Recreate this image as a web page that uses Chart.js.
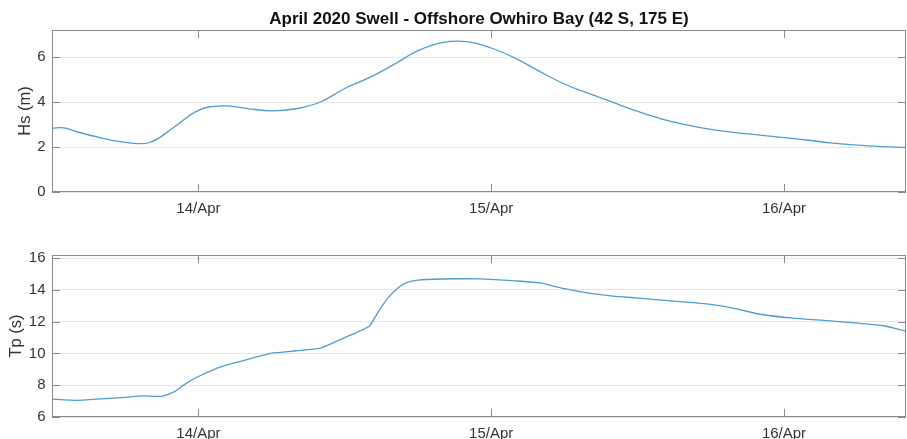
<!DOCTYPE html>
<html>
<head>
<meta charset="utf-8">
<script src="https://cdn.jsdelivr.net/npm/chart.js@4.4.1/dist/chart.umd.min.js"></script>
<style>
  body { margin: 0; background: #fff; }
  #wrap { position: relative; width: 907px; height: 439px; }
  .panel { position: absolute; left: 0; width: 907px; }
  #hsBox { top: 0; height: 220px; }
  #tpBox { top: 220px; height: 219px; }
</style>
</head>
<body>
<div id="wrap">
  <div class="panel" id="hsBox"><canvas id="hsChart" width="907" height="220"></canvas></div>
  <div class="panel" id="tpBox"><canvas id="tpChart" width="907" height="219"></canvas></div>
</div>
<script>
// time axis is hours since 13/Apr 00:00
const hsTime = [12, 13, 14, 16, 18, 20, 22, 24, 26, 28, 30, 32, 34, 36, 38, 40, 42, 44, 46,
  48, 50, 52, 54, 56, 58, 60, 62, 64, 66, 68, 70, 72, 74, 76, 78, 80, 82];
const hsValues = [2.83, 2.85, 2.68, 2.41, 2.21, 2.20, 2.88, 3.63, 3.83, 3.71, 3.61, 3.70, 4.00,
  4.60, 5.08, 5.66, 6.28, 6.64, 6.68, 6.40, 5.94, 5.35, 4.80, 4.38, 3.98,
  3.58, 3.24, 2.98, 2.78, 2.64, 2.53, 2.42, 2.30, 2.17, 2.08, 2.02, 1.98];

const tpTime = [12, 14, 16, 18, 19.5, 21, 22, 23, 24, 26, 28, 30, 32, 34, 36, 38, 38.8,
  39.6, 40.4, 41, 42, 44, 46, 48, 50, 52, 54, 56, 58, 60, 62, 64, 66, 68, 70,
  72, 74, 76, 78, 80, 81, 82];
const tpValues = [7.12, 7.05, 7.14, 7.24, 7.33, 7.30, 7.58, 8.12, 8.55, 9.20, 9.62, 10.02,
  10.17, 10.33, 11.00, 11.72, 12.70, 13.55, 14.15, 14.45, 14.62, 14.69, 14.71,
  14.67, 14.57, 14.44, 14.08, 13.80, 13.61, 13.49, 13.36, 13.23, 13.09, 12.83,
  12.47, 12.28, 12.15, 12.04, 11.91, 11.76, 11.60, 11.41];

const dayHours = [24, 48, 72];
const dayLabels = ["14/Apr", "15/Apr", "16/Apr"];

const lineColour = "#4f9dd2";
const frameColour = "#8a8a8a";
const gridColour = "#e6e6e6";
const textColour = "#333333";

Chart.defaults.font.family = '"Liberation Sans", Arial, sans-serif';
Chart.defaults.font.size = 15;
Chart.defaults.color = textColour;

// box around the axes with inward ticks on all four sides
const framePlugin = {
  id: "frame",
  afterDraw(chart) {
    const { ctx, chartArea: a, scales } = chart;
    const len = 8;
    ctx.save();
    ctx.strokeStyle = frameColour;
    ctx.lineWidth = 1;
    ctx.strokeRect(a.left + 0.5, a.top + 0.5, a.width - 1, a.height - 1);
    ctx.beginPath();
    scales.x.ticks.forEach((t) => {
      const x = Math.round(scales.x.getPixelForValue(t.value)) + 0.5;
      ctx.moveTo(x, a.bottom);
      ctx.lineTo(x, a.bottom - len);
      ctx.moveTo(x, a.top);
      ctx.lineTo(x, a.top + len);
    });
    scales.y.ticks.forEach((t) => {
      const y = Math.round(scales.y.getPixelForValue(t.value)) + 0.5;
      ctx.moveTo(a.left, y);
      ctx.lineTo(a.left + len, y);
      ctx.moveTo(a.right, y);
      ctx.lineTo(a.right - len, y);
    });
    ctx.stroke();
    ctx.restore();
  },
};

function makeChart(canvasId, opts) {
  const points = opts.time.map((t, i) => ({ x: t, y: opts.values[i] }));
  return new Chart(document.getElementById(canvasId), {
    type: "line",
    data: {
      datasets: [
        {
          data: points,
          borderColor: lineColour,
          borderWidth: 1.3,
          pointRadius: 0,
          fill: false,
          tension: opts.tension,
        },
      ],
    },
    options: {
      responsive: false,
      animation: false,
      layout: { padding: { top: opts.padTop, right: 1, left: 0, bottom: 0 } },
      plugins: {
        legend: { display: false },
        tooltip: { enabled: false },
        title: opts.title
          ? {
              display: true,
              fullSize: false, // centre over the plot area, not the canvas
              text: opts.title,
              color: "#111111",
              font: { size: 17, weight: "bold" },
              padding: { top: 9.6, bottom: 0 },
            }
          : { display: false },
      },
      scales: {
        x: {
          type: "linear",
          min: 12,
          max: 82,
          grid: { display: false, drawTicks: false },
          border: { display: false },
          afterFit: (scale) => { scale.height = opts.xHeight; },
          afterBuildTicks: (scale) => {
            scale.ticks = dayHours.map((v) => ({ value: v }));
          },
          ticks: {
            padding: 7.5,
            maxRotation: 0,
            callback: (v) => dayLabels[dayHours.indexOf(v)],
          },
        },
        y: {
          min: opts.yMin,
          max: opts.yMax,
          grid: { color: gridColour, drawTicks: false },
          border: { display: false },
          afterFit: (scale) => { scale.width = 52; },
          ticks: { stepSize: 2, includeBounds: false, padding: 6.5 },
          title: {
            display: true,
            text: opts.yTitle,
            font: { size: 16.5 },
            padding: { top: opts.yTitlePad, bottom: 0 },
          },
        },
      },
    },
    plugins: [framePlugin],
  });
}

makeChart("hsChart", {
  time: hsTime,
  values: hsValues,
  title: "April 2020 Swell - Offshore Owhiro Bay (42 S, 175 E)",
  yTitle: "Hs (m)",
  yTitlePad: 16,
  yMin: 0,
  yMax: 7.2,
  padTop: 0,
  xHeight: 28,
  tension: 0.4,
});

makeChart("tpChart", {
  time: tpTime,
  values: tpValues,
  title: null,
  yTitle: "Tp (s)",
  yTitlePad: 7,
  yMin: 6,
  yMax: 16.2,
  padTop: 35,
  xHeight: 22,
  tension: 0.15,
});
</script>
</body>
</html>
